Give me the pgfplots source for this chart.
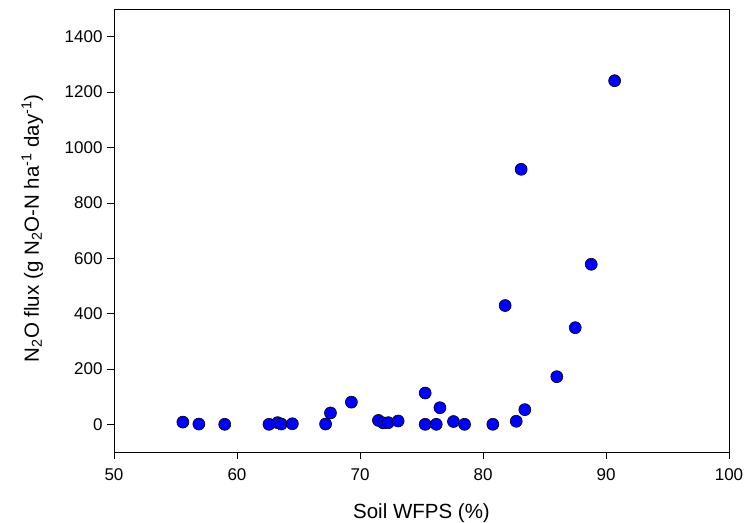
\documentclass[border=0pt]{standalone}
\usepackage{fontspec}
\setmainfont{Liberation Sans}
\usepackage{pgfplots}
\pgfplotsset{compat=1.18}
\begin{document}
\begin{tikzpicture}
\begin{axis}[
  scale only axis,
  width=615pt, height=443pt,
  xmin=50, xmax=100, ymin=-100, ymax=1500,
  xtick={50,60,...,100},
  ytick={0,200,...,1400},
  tick align=outside,
  tick pos=left,
  major tick length=7pt,
  tick style={black, line width=0.6pt},
  axis line style={black, line width=0.8pt},
  /pgf/number format/assume math mode=true,
  /pgf/number format/1000 sep={},
  tick label style={font=\fontsize{17}{20}\selectfont},
  xticklabel style={yshift=-6pt},
  yticklabel style={xshift=-1pt},
  label style={font=\fontsize{20.5}{24}\selectfont},
  xlabel={Soil WFPS (\%)},
  ylabel={N\textsubscript{2}O flux (g N\textsubscript{2}O-N ha\textsuperscript{-1} day\textsuperscript{-1})},
  xlabel style={at={(axis description cs:0.5,-0.138)}, anchor=center},
  ylabel style={at={(axis description cs:-0.133,0.505)}, anchor=center},
]
\addplot[only marks, mark=*, mark size=6pt, mark options={fill=blue, draw=black, line width=0.6pt}] coordinates {
(55.6,8) (56.9,1) (59.0,0) (62.6,0) (63.3,6) (63.6,1) (64.5,2) (67.2,1)
(67.6,41) (69.3,80) (71.5,14) (71.9,5) (72.3,6) (73.1,12) (75.3,113) (75.3,0)
(76.5,60) (76.2,0) (77.6,10) (78.5,0) (80.8,0) (82.7,11) (83.4,53)
(90.7,1241) (83.1,921) (88.8,578) (81.8,429) (87.5,349) (86.0,172)
};
\end{axis}
\pgfresetboundingbox
\path ([shift={(-114pt,-71pt)}]current axis.south west) rectangle ([shift={(17pt,9pt)}]current axis.north east);
\end{tikzpicture}
\end{document}
